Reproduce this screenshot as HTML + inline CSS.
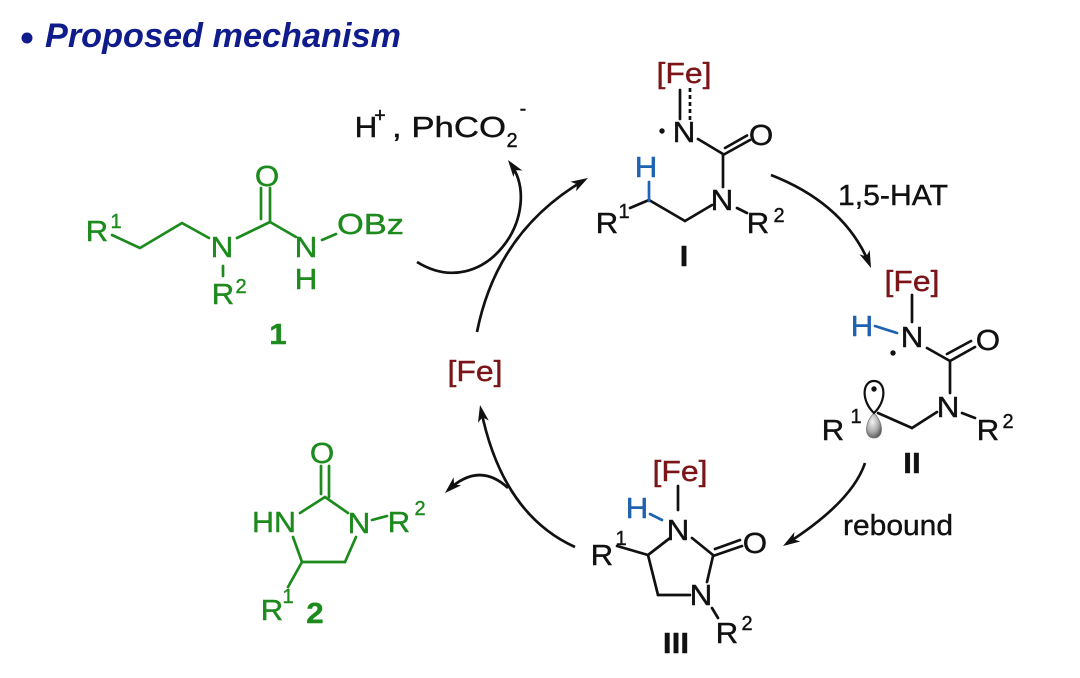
<!DOCTYPE html>
<html><head><meta charset="utf-8">
<style>
html,body{margin:0;padding:0;background:#fff;}
svg{display:block;}
text{font-family:"Liberation Sans",Arial,sans-serif;stroke-width:0.4;}
.a{font-size:29px;text-anchor:middle;transform-box:fill-box;transform-origin:center;transform:scaleX(1.08);}
.s{font-size:20px;text-anchor:middle;}
.b{font-size:29px;font-weight:bold;text-anchor:middle;transform-box:fill-box;transform-origin:center;transform:scaleX(1.08);}
.g{fill:#1d8a1d;stroke:#1d8a1d;}
.k{fill:#111;stroke:#111;}
.r{fill:#7a1518;stroke:#7a1518;}
.u{fill:#1f62b0;stroke:#1f62b0;}
</style></head>
<body>
<svg width="1080" height="678" viewBox="0 0 1080 678" xmlns="http://www.w3.org/2000/svg">
<defs>
<marker id="ah" markerUnits="userSpaceOnUse" markerWidth="18" markerHeight="12" refX="13" refY="6" orient="auto" viewBox="0 0 18 12">
<path d="M0,0.5 L17,6 L0,11.5 L4.5,6 Z" fill="#111"/>
</marker>
<radialGradient id="lobe" cx="0.4" cy="0.35" r="0.7">
<stop offset="0" stop-color="#f2f2f2"/><stop offset="0.6" stop-color="#aaa"/><stop offset="1" stop-color="#555"/>
</radialGradient>
</defs>

<!-- Title -->
<circle cx="27" cy="38" r="5.5" fill="#101c8c"/>
<text x="45" y="47" font-size="34" font-weight="bold" font-style="italic" fill="#101c8c" textLength="356" lengthAdjust="spacingAndGlyphs">Proposed mechanism</text>

<!-- Compound 1 -->
<g stroke="#1d8a1d" stroke-width="2.7" fill="none" stroke-linecap="round" stroke-linejoin="round">
<polyline points="112,235 140,248 182,223 209,238"/>
<line x1="223" y1="266" x2="223" y2="276"/>
<line x1="237" y1="238" x2="270" y2="222"/>
<line x1="270" y1="222" x2="270" y2="188"/>
<line x1="261" y1="219" x2="261" y2="188"/>
<line x1="270" y1="222" x2="296" y2="237"/>
<line x1="322" y1="240" x2="336" y2="234"/>
</g>
<text class="a g" x="97" y="241">R</text><text class="s g" x="116" y="228">1</text>
<text class="a g" x="222" y="257">N</text>
<text class="a g" x="223" y="304">R</text><text class="s g" x="241" y="293">2</text>
<text class="a g" x="267" y="186">O</text>
<text class="a g" x="306" y="257">N</text>
<text class="a g" x="306" y="289">H</text>
<text class="g" x="337" y="234" font-size="29" textLength="67" lengthAdjust="spacingAndGlyphs">OBz</text>
<text class="b g" x="278" y="344">1</text>

<!-- H+, PhCO2- -->
<text class="a k" x="366" y="137">H</text>
<text class="s k" x="380" y="122">+</text>
<text class="k" x="392" y="137" font-size="29" textLength="114" lengthAdjust="spacingAndGlyphs">, PhCO</text>
<text class="s k" x="512" y="147">2</text>
<text class="s k" x="523" y="115">-</text>

<!-- Intermediate I -->
<text class="r" x="684" y="83" font-size="29" text-anchor="middle" textLength="55" lengthAdjust="spacingAndGlyphs">[Fe]</text>
<g stroke="#111" stroke-width="2.7" fill="none" stroke-linecap="round">
<line x1="680" y1="90" x2="680" y2="119"/>
<line x1="690" y1="88" x2="690" y2="121" stroke-dasharray="4 3" stroke-linecap="butt"/>
<line x1="698" y1="139" x2="723" y2="154"/>
<line x1="723" y1="155" x2="750" y2="140"/>
<line x1="725" y1="148" x2="747" y2="135.5"/>
<line x1="723" y1="156" x2="723" y2="187"/>
<line x1="737" y1="208" x2="747" y2="213"/>
<line x1="712" y1="205" x2="685" y2="221"/>
<line x1="685" y1="221" x2="649" y2="200"/>
<line x1="649" y1="200" x2="630" y2="208"/>
</g>
<line x1="649" y1="201" x2="649" y2="182" stroke="#1f62b0" stroke-width="2.7" stroke-linecap="round"/>
<circle cx="662" cy="131" r="2.7" fill="#111"/>
<text class="a k" x="684" y="142">N</text>
<text class="a k" x="761" y="145">O</text>
<text class="a k" x="722" y="210">N</text>
<text class="a k" x="758" y="233">R</text><text class="s k" x="779" y="222">2</text>
<text class="a u" x="646" y="177">H</text>
<text class="a k" x="607" y="233">R</text><text class="s k" x="624" y="218">1</text>
<text class="b k" x="684" y="266">I</text>
<text class="k" x="838" y="205" font-size="29" textLength="110" lengthAdjust="spacingAndGlyphs">1,5-HAT</text>

<!-- Intermediate II -->
<text class="r" x="912" y="291" font-size="29" text-anchor="middle" textLength="55" lengthAdjust="spacingAndGlyphs">[Fe]</text>
<g stroke="#111" stroke-width="2.7" fill="none" stroke-linecap="round">
<line x1="912" y1="295" x2="912" y2="322"/>
<line x1="927" y1="348" x2="950" y2="361"/>
<line x1="950" y1="361" x2="975" y2="347"/>
<line x1="947" y1="354" x2="971" y2="341"/>
<line x1="950" y1="362" x2="950" y2="393"/>
<line x1="962" y1="413" x2="975" y2="418"/>
<line x1="937" y1="412" x2="912" y2="428"/>
<line x1="912" y1="428" x2="878" y2="413"/>
</g>
<line x1="875" y1="326" x2="897" y2="333" stroke="#1f62b0" stroke-width="2.7" stroke-linecap="round"/>
<circle cx="893" cy="353" r="2.7" fill="#111"/>
<path d="M874,413 C864,423 864,438 874,438 C884,438 884,423 874,413 Z" fill="url(#lobe)" stroke="#777" stroke-width="0.8"/>
<path d="M874,413 C861,401 862,381 874,381 C886,381 887,401 874,413 Z" fill="#fff" stroke="#111" stroke-width="2.2"/>
<circle cx="874" cy="389" r="2.7" fill="#111"/>
<text class="a u" x="862" y="336">H</text>
<text class="a k" x="912" y="347">N</text>
<text class="a k" x="988" y="350">O</text>
<text class="a k" x="948" y="417">N</text>
<text class="a k" x="988" y="440">R</text><text class="s k" x="1008" y="428">2</text>
<text class="a k" x="833" y="440">R</text><text class="s k" x="856" y="423">1</text>
<text class="b k" x="912" y="473">II</text>
<text class="k" x="843" y="535" font-size="29" textLength="110" lengthAdjust="spacingAndGlyphs">rebound</text>

<!-- Intermediate III -->
<text class="r" x="680" y="481" font-size="29" text-anchor="middle" textLength="55" lengthAdjust="spacingAndGlyphs">[Fe]</text>
<g stroke="#111" stroke-width="2.7" fill="none" stroke-linecap="round">
<line x1="678" y1="486" x2="678" y2="510"/>
<line x1="692" y1="538" x2="713" y2="555"/>
<line x1="713" y1="556" x2="742" y2="546"/>
<line x1="715" y1="549" x2="740" y2="540"/>
<line x1="713" y1="556" x2="707" y2="582"/>
<line x1="690" y1="595" x2="658" y2="595"/>
<line x1="658" y1="595" x2="648" y2="555"/>
<line x1="648" y1="555" x2="670" y2="538"/>
<line x1="648" y1="555" x2="617" y2="546"/>
<line x1="712" y1="608" x2="718" y2="618"/>
</g>
<line x1="650" y1="514" x2="662" y2="520" stroke="#1f62b0" stroke-width="2.7" stroke-linecap="round"/>
<text class="a u" x="637" y="518">H</text>
<text class="a k" x="678" y="540">N</text>
<text class="a k" x="755" y="553">O</text>
<text class="a k" x="701" y="605">N</text>
<text class="a k" x="602" y="565">R</text><text class="s k" x="621" y="545">1</text>
<text class="a k" x="727" y="643">R</text><text class="s k" x="747" y="630">2</text>
<text class="b k" x="676" y="653">III</text>

<!-- Catalyst -->
<text class="r" x="475" y="381" font-size="29" text-anchor="middle" textLength="55" lengthAdjust="spacingAndGlyphs">[Fe]</text>

<!-- Compound 2 -->
<g stroke="#1d8a1d" stroke-width="2.7" fill="none" stroke-linecap="round">
<line x1="321" y1="466" x2="321" y2="494"/>
<line x1="329" y1="466" x2="329" y2="497"/>
<line x1="325" y1="497" x2="300" y2="513"/>
<line x1="325" y1="497" x2="348" y2="513"/>
<line x1="372" y1="520" x2="387" y2="516"/>
<line x1="356" y1="537" x2="345" y2="562"/>
<line x1="345" y1="562" x2="302" y2="562"/>
<line x1="302" y1="562" x2="293" y2="537"/>
<line x1="302" y1="562" x2="288" y2="587"/>
</g>
<text class="a g" x="322" y="463">O</text>
<text class="g" x="274" y="532" font-size="29" text-anchor="middle" textLength="44" lengthAdjust="spacingAndGlyphs">HN</text>
<text class="a g" x="359" y="533">N</text>
<text class="a g" x="399" y="532">R</text><text class="s g" x="420" y="515">2</text>
<text class="a g" x="272" y="620">R</text><text class="s g" x="288" y="603">1</text>
<text class="b g" x="315" y="623">2</text>

<!-- Arrows -->
<g stroke="#111" stroke-width="2.7" fill="none" marker-end="url(#ah)">
<path d="M477,332 Q497,231 584.5,180"/>
<path d="M417,262 C485,304 546,213 510.3,163.2"/>
<path d="M771,175 Q845,204 869.5,264.3"/>
<path d="M865,463 Q852,502 786.4,543.8"/>
<path d="M575,547 Q502,514 480.8,408.9"/>
<path d="M508,488 Q479,461 447.9,490.3"/>
</g>
</svg>
</body></html>
